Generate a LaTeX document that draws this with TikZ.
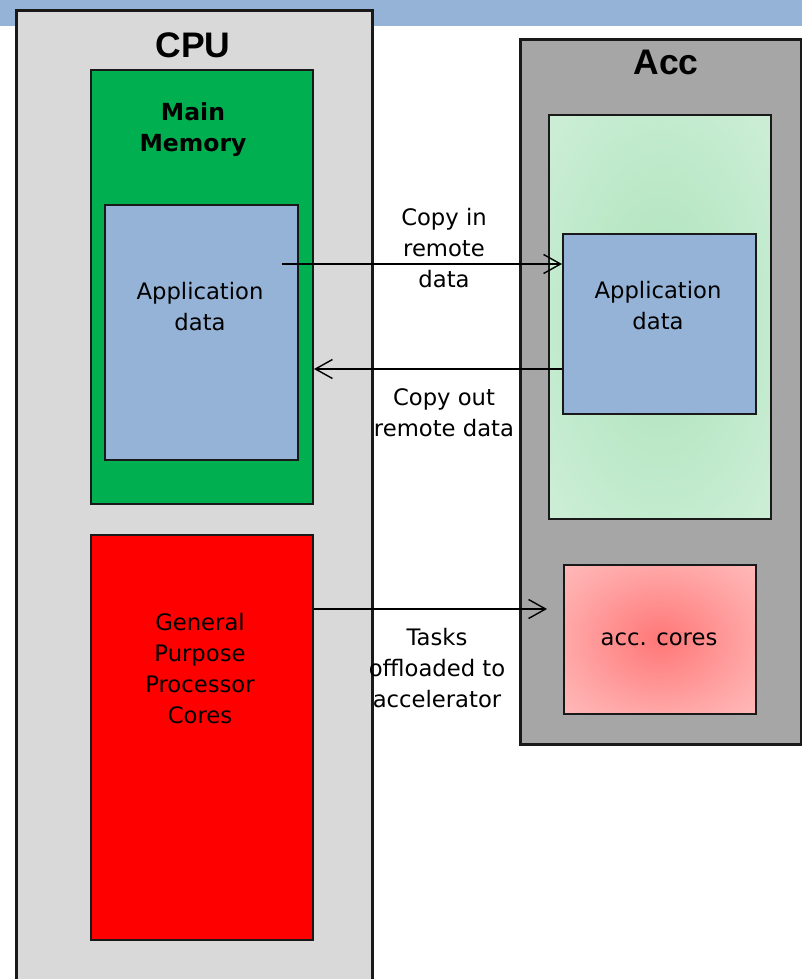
\documentclass[tikz,border=0pt]{standalone}
\usepackage{fontspec}
\usetikzlibrary{arrows.meta}
\newfontfamily\lblfont{DejaVu Sans}
\newfontfamily\ttlfont{Liberation Sans}

\definecolor{bandblue}{HTML}{95B3D7}
\definecolor{cpugray}{HTML}{D9D9D9}
\definecolor{accgray}{HTML}{A6A6A6}
\definecolor{memgreen}{HTML}{00B050}
\definecolor{corered}{HTML}{FF0000}
\definecolor{gcen}{HTML}{AEE3BC}
\definecolor{gmid}{HTML}{C3EBCE}
\definecolor{gout}{HTML}{E0F3E5}
\definecolor{rcen}{HTML}{FF7777}
\definecolor{rmid}{HTML}{FFA8A8}
\definecolor{rout}{HTML}{FFD8D8}

% soft glow fills for the accelerator memory and cores
\pgfdeclareradialshading{greenglow}{\pgfpoint{0bp}{0bp}}{color(0bp)=(gcen); color(25bp)=(gmid); color(55bp)=(gout); color(71bp)=(gout)}
\pgfdeclareradialshading{redglow}{\pgfpoint{0bp}{0bp}}{color(0bp)=(rcen); color(25bp)=(rmid); color(55bp)=(rout); color(71bp)=(rout)}

\tikzset{
  blk/.style={draw=black!90, line width=2pt, anchor=north west, inner sep=0pt},
  outerblk/.style={blk, line width=2.6pt},
  lbl/.style={font=\lblfont\fontsize{22.7}{31}\selectfont, align=center, anchor=north, inner sep=0pt},
  boldlbl/.style={lbl, font=\lblfont\bfseries\fontsize{23.5}{31}\selectfont},
  ttl/.style={font=\ttlfont\bfseries\fontsize{35.5}{40}\selectfont, anchor=base, inner sep=0pt},
  arr/.style={line width=1.4pt, -{Straight Barb[length=17pt,width=19pt,line width=1.4pt]}},
}

\begin{document}
\begin{tikzpicture}[x=1pt, y=-1pt]
\useasboundingbox (0,0) rectangle (802,979);

% title band
\fill[bandblue] (0,0) rectangle (802,26);

% host side
\node[outerblk, fill=cpugray, minimum width=356pt, minimum height=1000pt] (cpu) at (15,9) {};
\node[ttl] (cputitle) at (193,58) {CPU};
\node[blk, fill=memgreen, minimum width=222pt, minimum height=434pt] (mem) at (90,69) {};
\node[boldlbl] (memtitle) at (193,98.3) {\strut Main\\\strut Memory};
\node[blk, fill=bandblue, minimum width=193pt, minimum height=255pt] (capp) at (104,204) {};
\node[lbl] (capptext) at (200,277.3) {\strut Application\\\strut data};
\node[blk, fill=corered, minimum width=222pt, minimum height=405pt] (gpc) at (90,534) {};
\node[lbl] (gpctext) at (200,608.3) {\strut General\\\strut Purpose\\\strut Processor\\\strut Cores};

% accelerator side
\node[outerblk, fill=accgray, minimum width=281pt, minimum height=705pt] (acc) at (519,38) {};
\node[ttl] (acctitle) at (666,75) {Acc};
\node[blk, shading=greenglow, minimum width=222pt, minimum height=404pt] (amem) at (548,114) {};
\node[blk, fill=bandblue, minimum width=193pt, minimum height=180pt] (aapp) at (562,233) {};
\node[lbl] (aapptext) at (658,276.3) {\strut Application\\\strut data};
\node[blk, shading=redglow, minimum width=192pt, minimum height=149pt] (acores) at (563,564) {};
\node[lbl] (acorestext) at (659,623.3) {\strut acc. cores};

% transfers between host and accelerator
\coordinate (cinstart) at (282,264);
\draw[arr] (cinstart) -- (aapp.west |- cinstart);
\coordinate (coutrow) at (0,369);
\draw[arr] (aapp.west |- coutrow) -- (mem.east |- coutrow);
\coordinate (taskrow) at (0,609);
\draw[arr, shorten >=16pt] (gpc.east |- taskrow) -- (acores.west |- taskrow);

\node[lbl] (cinlabel) at (444,203.3) {\strut Copy in\\\strut remote\\\strut data};
\node[lbl] (coutlabel) at (444,383.3) {\strut Copy out\\\strut remote data};
\node[lbl] (tasklabel) at (437,623.3) {\strut Tasks\\\strut offloaded to\\\strut accelerator};
\end{tikzpicture}
\end{document}
